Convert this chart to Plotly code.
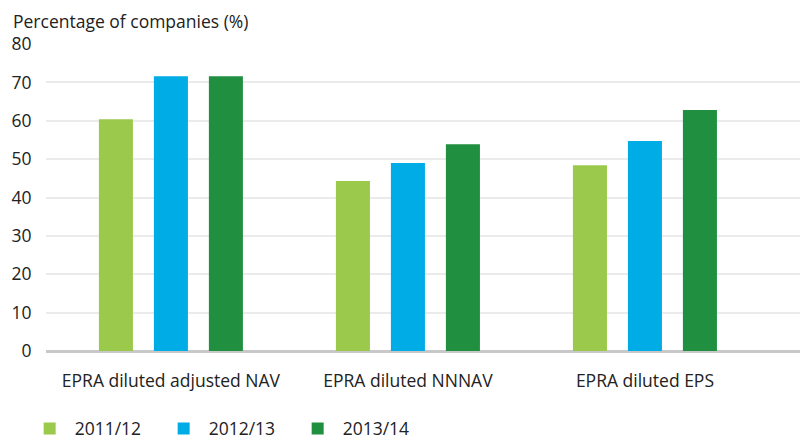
import plotly.graph_objects as go

categories = ["EPRA diluted adjusted NAV", "EPRA diluted NNNAV", "EPRA diluted EPS"]
series_names = ["2011/12", "2012/13", "2013/14"]
values_2011 = [60.4, 44.3, 48.4]
values_2012 = [71.6, 49.0, 54.7]
values_2013 = [71.6, 53.9, 62.8]
colors = ["#9BC94B", "#00ACE6", "#208F3F"]
y_ticks = [0, 10, 20, 30, 40, 50, 60, 70, 80]

FONT = "Open Sans"
TXT = "#222222"

# page body has an 8px margin: figure drawn at (8, 8)
W, H = 800, 431
ML, MR, MT, MB = 38, 0, 36, 88
pw = W - ML - MR
ph = H - MT - MB

fig = go.Figure()
for name, vals, col in zip(series_names, [values_2011, values_2012, values_2013], colors):
    fig.add_trace(go.Bar(x=categories, y=vals, name=name, marker=dict(color=col, line=dict(width=0))))

fig.update_layout(
    width=W, height=H,
    barmode="group", bargap=0.304, bargroupgap=0.381,
    plot_bgcolor="white", paper_bgcolor="white",
    margin=dict(l=ML, r=MR, t=MT, b=MB, autoexpand=False),
    font=dict(family=FONT, size=17, color=TXT),
    showlegend=True,
    legend=dict(orientation="h", x=-0.028, xref="paper", y=-77.5 / ph, yanchor="middle",
                xanchor="left", font=dict(size=17.5, color=TXT), entrywidth=79, itemwidth=40,
                traceorder="normal", itemclick=False, itemdoubleclick=False),
    annotations=[dict(text="Percentage of companies (%)", x=(4 - ML) / pw, xref="paper",
                      y=(H - MB) / ph, yref="paper", showarrow=False,
                      font=dict(size=17.5, color=TXT), xanchor="left", yanchor="top",
                      borderpad=0)],
)

fig.update_xaxes(range=[-0.527, 2.688], showgrid=False, showline=False, zeroline=False,
                 automargin=False, ticks="outside", ticklen=14, tickcolor="rgba(0,0,0,0)",
                 tickfont=dict(size=17.5, color=TXT))
fig.update_yaxes(range=[0, 80], tickvals=y_ticks, showgrid=True, gridcolor="#ebebeb", gridwidth=1.5,
                 zeroline=True, zerolinecolor="#c8c8c8", zerolinewidth=3, showline=False,
                 automargin=False, ticks="outside", ticklen=10, tickcolor="rgba(0,0,0,0)",
                 tickfont=dict(size=17.5, color=TXT))

fig.write_html("out.html")
